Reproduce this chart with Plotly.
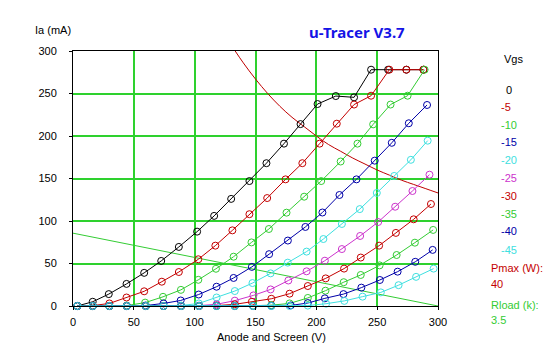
import plotly.graph_objects as go

# ---------------- data ----------------
vgs_labels = ["0", "-5", "-10", "-15", "-20", "-25", "-30", "-35", "-40", "-45"]

va_0 = [3.5, 16.2, 29.4, 44, 58.5, 72.5, 87, 102, 116, 130, 145, 159, 173.4, 187, 201, 216, 231, 245, 259, 274, 288]
ia_0 = [0, 5, 14, 26, 39, 53, 69.5, 87.5, 106, 126, 147, 168, 191, 214, 237.6, 247, 245.5, 278, 278, 278, 278]

va_5 = [3.6, 16.2, 29.9, 44, 58.5, 73, 87, 103, 117, 131, 145, 159.6, 174.7, 188.5, 202.7, 216.8, 231, 245, 260, 274, 288]
ia_5 = [0, 0.5, 3, 10, 17.3, 28.6, 40, 55, 71, 89, 108, 127, 149, 168, 191, 214.5, 237, 247.4, 278, 278, 278]

va_10 = [3.6, 16.2, 29.9, 44.2, 59.3, 74, 88.7, 103, 117.5, 132, 146.7, 161, 175.5, 190, 204, 220, 233.8, 246.7, 261, 275, 289]
ia_10 = [0, 0, 0, 0.5, 4, 10.8, 19, 30.8, 43.8, 58, 74.8, 90.6, 109.8, 128.6, 147, 170, 191, 213.7, 237, 247.4, 278]

va_15 = [3.6, 16.2, 29.9, 44.2, 59.5, 74.4, 88.5, 103.3, 118, 132, 147, 161.2, 176.6, 191, 205, 219, 233, 248, 262, 276, 291]
ia_15 = [0, 0, 0, 0, 0.5, 3, 6.5, 13.5, 22.7, 33, 46, 61, 77, 93, 110, 130.6, 149, 171, 192, 215, 236.5]

va_20 = [3.6, 16.2, 29.9, 44.2, 59.9, 74.4, 88.8, 103.4, 118, 133, 147.5, 162.4, 176.5, 192, 205.8, 221, 235.7, 249.7, 264, 277.7, 291.5]
ia_20 = [0, 0, 0, 0, 0, 0, 0.5, 3, 10, 17.6, 27, 38.4, 51, 64, 78.8, 96.5, 114, 133, 153, 172, 194.5]

va_25 = [3.6, 16.2, 29.9, 44.2, 59.9, 74.4, 88.8, 103.6, 118, 133, 148.3, 162.4, 177, 192, 207, 221, 236, 250.8, 264.8, 279, 293]
ia_25 = [0, 0, 0, 0, 0, 0, 0, 0.5, 2, 6.3, 12.5, 19.5, 30, 40.8, 53.3, 67, 82.4, 98.8, 116.8, 135.3, 154.5]

va_30 = [3.6, 16.2, 29.9, 44.2, 59.9, 74.4, 88.8, 103.6, 118, 133, 147, 163, 178, 193, 207.7, 222.8, 236.5, 251.6, 265.4, 280, 294.2]
ia_30 = [0, 0, 0, 0, 0, 0, 0, 0, 0.5, 2, 5, 8.5, 14.5, 23.5, 32.5, 44, 57, 71, 86, 102, 120]

va_35 = [3.6, 16.2, 29.9, 44.2, 59.9, 74.4, 88.8, 103.6, 118, 133, 148, 163, 178, 193, 207.5, 222.5, 236.5, 252, 266, 281, 296]
ia_35 = [0, 0, 0, 0, 0, 0, 0, 0, 0, 0, 0.3, 1, 3, 9.5, 18, 28, 36.5, 47.8, 60, 74.5, 89.5]

va_40 = [3.6, 16.2, 29.9, 44.2, 59.9, 74.4, 88.8, 103.6, 118, 133, 148, 163, 179, 193, 207, 222.3, 237, 252.2, 266.8, 281.3, 295.6]
ia_40 = [0, 0, 0, 0, 0, 0, 0, 0, 0, 0, 0, 0.2, 0.7, 3.5, 9, 14, 21.6, 30.6, 40.4, 52, 66]

va_45 = [3.6, 16.2, 29.9, 44.2, 59.9, 74.4, 88.8, 103.6, 118, 133, 148, 163, 178, 193, 208, 223, 238, 253, 267.6, 282, 296.4]
ia_45 = [0, 0, 0, 0, 0, 0, 0, 0, 0, 0, 0, 0, 0, 0.5, 2.7, 6, 11, 16, 24.5, 34.3, 44]

pmax_v = [133.3, 140, 150, 160, 170, 180, 190, 200, 210, 220, 230, 240, 250, 260, 270, 280, 290, 300]
pmax_i = [300, 286, 267, 250, 235, 222, 211, 200, 190, 182, 174, 167, 160, 154, 148, 143, 138, 133]

rload_v = [0, 300]
rload_i = [85.7, 0]

pmax_label = "Pmax (W):"
pmax_value = "40"
rload_label = "Rload (k):"
rload_value = "3.5"

x_ticks = [0, 50, 100, 150, 200, 250, 300]
y_ticks = [0, 50, 100, 150, 200, 250, 300]

# ---------------- styling ----------------
C_BLACK = "#000000"
C_RED = "#c40000"
C_GREEN = "#33cc33"
C_BLUE = "#0000a8"
C_CYAN = "#3ee0e0"
C_MAG = "#cc33cc"
curve_colors = [C_BLACK, C_RED, C_GREEN, C_BLUE, C_CYAN, C_MAG, C_RED, C_GREEN, C_BLUE, C_CYAN]
curves_x = [va_0, va_5, va_10, va_15, va_20, va_25, va_30, va_35, va_40, va_45]
curves_y = [ia_0, ia_5, ia_10, ia_15, ia_20, ia_25, ia_30, ia_35, ia_40, ia_45]

W, H = 547, 357
L, R, T, B = 73, 109, 51, 51
PW, PH = W - L - R, H - T - B
FONT = "Liberation Sans"


def px(X):
    return (X - L) / PW


def py(Y):
    return (H - B - Y) / PH


fig = go.Figure()

fig.add_trace(go.Scatter(x=rload_v, y=rload_i, mode="lines",
                         line=dict(color=C_GREEN, width=1), hoverinfo="skip"))
fig.add_trace(go.Scatter(x=pmax_v, y=pmax_i, mode="lines",
                         line=dict(color="#c00000", width=1, shape="spline"), hoverinfo="skip"))

for xs, ys, col, name in zip(curves_x, curves_y, curve_colors, vgs_labels):
    fig.add_trace(go.Scatter(
        x=xs, y=ys, mode="lines+markers", name=name,
        line=dict(color=col, width=1),
        marker=dict(symbol="circle-open", size=7, color=col, line=dict(width=1, color=col)),
        cliponaxis=False,
    ))

ann = []
ann.append(dict(text="u-Tracer V3.7", x=px(357), y=py(31.5), xanchor="center", yanchor="middle",
                font=dict(family="Noto Sans", size=15, color="#1414e6", weight="bold")))
ann.append(dict(text="Ia (mA)", x=px(33), y=py(30), xanchor="left", yanchor="middle",
                font=dict(family=FONT, size=11, color="#000000")))
ann.append(dict(text="Anode and Screen (V)", x=px(271), y=py(337), xanchor="center", yanchor="middle",
                font=dict(family=FONT, size=11, color="#000000")))
ann.append(dict(text="Vgs", x=px(502), y=py(59), xanchor="left", yanchor="middle",
                font=dict(family=FONT, size=11, color="#000000")))
row_y = [90, 107, 124.5, 142, 160, 178, 196, 213.5, 231.5, 249.5]
for lab, col, yy in zip(vgs_labels, curve_colors, row_y):
    xx = 504 if lab == "0" else 499
    ann.append(dict(text=lab, x=px(xx), y=py(yy), xanchor="left", yanchor="middle",
                    font=dict(family=FONT, size=11, color=col)))
ann.append(dict(text=pmax_label, x=px(489), y=py(268), xanchor="left", yanchor="middle",
                font=dict(family=FONT, size=11, color=C_RED)))
ann.append(dict(text=pmax_value, x=px(489), y=py(283.5), xanchor="left", yanchor="middle",
                font=dict(family=FONT, size=11, color=C_RED)))
ann.append(dict(text=rload_label, x=px(489), y=py(305), xanchor="left", yanchor="middle",
                font=dict(family=FONT, size=11, color=C_GREEN)))
ann.append(dict(text=rload_value, x=px(489), y=py(320), xanchor="left", yanchor="middle",
                font=dict(family=FONT, size=11, color=C_GREEN)))
for a in ann:
    a.update(xref="paper", yref="paper", showarrow=False)

axis_common = dict(
    range=[0, 300], tickvals=x_ticks, showgrid=True, gridcolor="#2ed12e", gridwidth=1.5,
    zeroline=False, showline=True, linecolor="#000000", linewidth=1, mirror=True,
    ticks="outside", ticklen=3, tickcolor="#000000", tickwidth=1,
    tickfont=dict(family=FONT, size=11, color="#000000"), fixedrange=True,
)

fig.update_layout(
    width=W, height=H, margin=dict(l=L, r=R, t=T, b=B, pad=0),
    paper_bgcolor="#ffffff", plot_bgcolor="#ffffff",
    showlegend=False, annotations=ann,
    xaxis=dict(axis_common, ticklabelstandoff=3),
    yaxis=dict(axis_common, tickvals=y_ticks, ticklabelstandoff=10),
)

fig.write_html("out.html", include_plotlyjs=True, config={"displayModeBar": False},
               post_script="document.body.style.margin='0';document.body.style.padding='0';")
